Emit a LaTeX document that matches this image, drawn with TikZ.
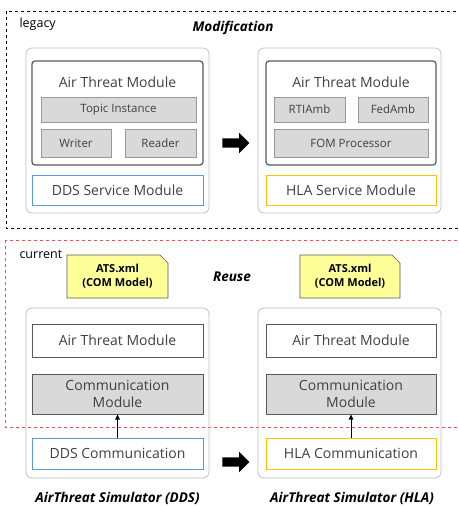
\documentclass[tikz,border=0pt]{standalone}
\usepackage{fontspec}
\setmainfont{Open Sans}
\usetikzlibrary{calc,arrows.meta,shapes.arrows}

\definecolor{boxgray}{HTML}{BFBFBF}
\definecolor{darkline}{HTML}{595959}
\definecolor{textgray}{HTML}{404040}
\definecolor{modfill}{HTML}{D9D9D9}
\definecolor{ddsblue}{HTML}{5B9BD5}
\definecolor{hlayellow}{HTML}{FFC000}
\definecolor{notefill}{HTML}{FFFF99}
\definecolor{reuse red}{HTML}{F05050}

\tikzset{
  simbox/.style={draw=boxgray,rounded corners=6pt,line width=0.8pt,minimum width=183pt,inner sep=0pt},
  atmbox/.style={draw=darkline,rounded corners=3pt,line width=1.2pt,minimum width=171pt,inner sep=0pt},
  bigtext/.style={font=\fontsize{14}{16}\selectfont,text=textgray},
  partbox/.style={draw=boxgray!80!black,fill=modfill,line width=0.8pt,inner sep=0pt,font=\fontsize{11.5}{13}\selectfont,text=textgray},
  plainbox/.style={draw=darkline,line width=1pt,inner sep=0pt,minimum width=171pt,bigtext},
  svcbox/.style={line width=1pt,inner sep=0pt,minimum width=171pt,minimum height=30pt,bigtext},
  notebox/.style={minimum width=101pt,minimum height=43pt,inner sep=0pt,align=center,font=\fontsize{11}{14}\bfseries\selectfont},
  bigarrow/.style={single arrow,fill=black,inner sep=4.5pt,minimum height=27pt,single arrow head extend=5.5pt},
  caption/.style={font=\fontsize{13.5}{15}\bfseries\itshape\selectfont},
  tag/.style={font=\fontsize{12.5}{14}\selectfont}
}

\begin{document}
\begin{tikzpicture}[x=1pt,y=-1pt]
\useasboundingbox (0,0) rectangle (458,508);
\clip (0,0) rectangle (458,508);

% legacy / current frames
\draw[dashed,line width=0.8pt] (6,11) rectangle (470,228);
\draw[dashed,reuse red,line width=0.8pt] (5,240) rectangle (470,427);
\node[tag,anchor=west] (legacy) at (16,24) {legacy};
\node[caption] (modif) at (233,28) {Modification};
\node[tag,anchor=west] (current) at (16,254) {current};
\node[caption] (reuse) at (232,277) {Reuse};

% legacy DDS simulator
\node[simbox,minimum height=165pt] (ddsSim) at (117.5,130.5) {};
\node[atmbox,minimum height=104pt] (atmL) at (117.5,113) {};
\node[bigtext] (atmLt) at (117.5,82) {Air Threat Module};
\node[partbox,minimum width=155pt,minimum height=25pt] (topic) at (118.5,109.5) {Topic Instance};
\node[partbox,minimum width=70pt,minimum height=28pt] (writer) at (76,143) {Writer};
\node[partbox,minimum width=71pt,minimum height=28pt] (reader) at (160.5,143) {Reader};
\node[svcbox,draw=ddsblue] (ddsSvc) at (117.5,190) {DDS Service Module};

% legacy HLA simulator
\node[simbox,minimum height=165pt] (hlaSim) at (349.5,130.5) {};
\node[atmbox,minimum width=170pt,minimum height=104pt] (atmR) at (351,113) {};
\node[bigtext] (atmRt) at (351,82) {Air Threat Module};
\node[partbox,minimum width=71pt,minimum height=25pt] (rtiamb) at (309.5,109.5) {RTIAmb};
\node[partbox,minimum width=70pt,minimum height=25pt] (fedamb) at (393,109.5) {FedAmb};
\node[partbox,minimum width=154pt,minimum height=28pt] (fom) at (351,143) {FOM Processor};
\node[svcbox,draw=hlayellow,minimum width=170pt] (hlaSvc) at (351,190) {HLA Service Module};

\node[bigarrow] (modArrow) at (233.5,143) {};

% COM model notes
\coordinate (noteL) at (117.5,276.5);
\coordinate (noteR) at (350,276.5);
\draw[fill=notefill,draw=darkline,line width=0.6pt] (67,298) -- (67,255) -- (160,255) -- (168,263) -- (168,298) -- cycle;
\draw[fill=notefill,draw=darkline,line width=0.6pt] (300,298) -- (300,255) -- (392,255) -- (400,263) -- (400,298) -- cycle;
\node[notebox] (noteLt) at (noteL) {ATS.xml\\(COM Model)};
\node[notebox,minimum width=100pt] (noteRt) at (noteR) {ATS.xml\\(COM Model)};

% current DDS simulator
\node[simbox,minimum height=170pt] (ddsSim2) at (117.5,393) {};
\node[plainbox,minimum height=33pt] (atm2L) at (117.5,340.5) {Air Threat Module};
\node[plainbox,fill=modfill,minimum height=40pt,align=center,font=\fontsize{14}{17}\selectfont] (commL) at (117.5,394) {Communication\\Module};
\node[svcbox,draw=ddsblue,minimum height=31pt] (ddsComm) at (117.5,453.5) {DDS Communication};
\draw[-{Triangle[length=5pt,width=4.5pt]},line width=0.8pt] (ddsComm.north) -- (commL.south);
\node[caption] (capL) at (117.5,498) {AirThreat Simulator (DDS)};

% current HLA simulator
\node[simbox,minimum height=170pt] (hlaSim2) at (349.5,393) {};
\node[plainbox,minimum width=170pt,minimum height=33pt] (atm2R) at (351,340.5) {Air Threat Module};
\node[plainbox,fill=modfill,minimum width=170pt,minimum height=40pt,align=center,font=\fontsize{14}{17}\selectfont] (commR) at (351,394) {Communication\\Module};
\node[svcbox,draw=hlayellow,minimum width=170pt,minimum height=31pt] (hlaComm) at (351,453.5) {HLA Communication};
\draw[-{Triangle[length=5pt,width=4.5pt]},line width=0.8pt] (hlaComm.north) -- (commR.south);
\node[caption] (capR) at (352,498) {AirThreat Simulator (HLA)};

\node[bigarrow] (reuseArrow) at (233.5,462) {};
\end{tikzpicture}
\end{document}
